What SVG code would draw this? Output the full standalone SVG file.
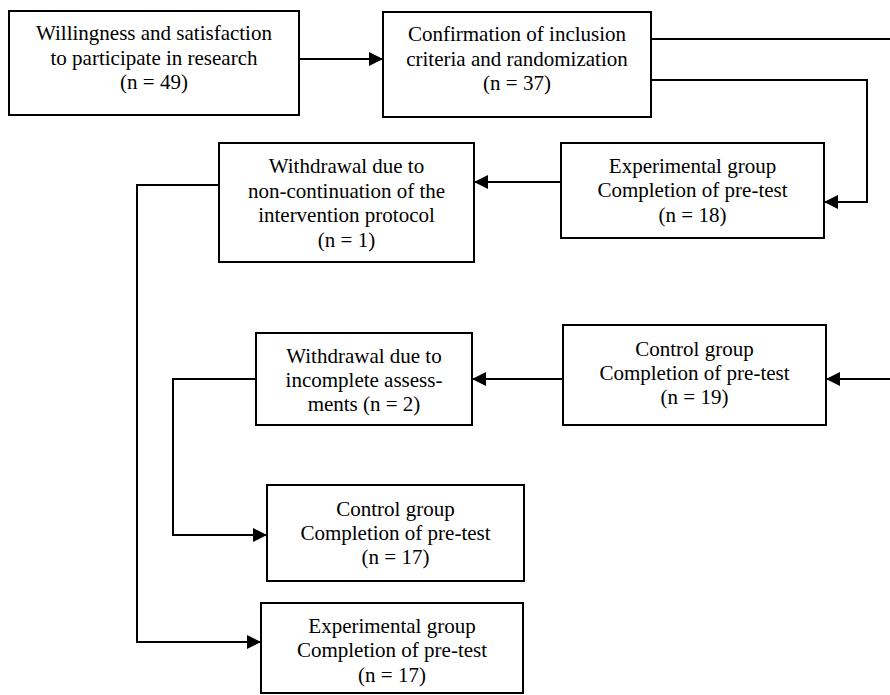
<svg xmlns="http://www.w3.org/2000/svg" width="890" height="695" viewBox="0 0 890 695">
<defs>
<marker id="ah" viewBox="0 0 14 14" refX="14" refY="7" markerWidth="14" markerHeight="14" markerUnits="userSpaceOnUse" orient="auto">
<path d="M0,0 L14,7 L0,14 z" fill="#000"/>
</marker>
<style>
.box{fill:#fff;stroke:#000;stroke-width:2}
.t{font-size:21px;fill:#000;text-anchor:middle}
.c{fill:none;stroke:#000;stroke-width:2}
.a{marker-end:url(#ah)}
</style>
</defs>
<rect width="890" height="695" fill="#fff"/>
<g id="connectors">
<path class="c a" d="M299,59 H383"/>
<path class="c" d="M651,39 H890"/>
<path class="c a" d="M651,80 H867 V202 H824"/>
<path class="c a" d="M561,182 H474"/>
<path class="c a" d="M219,185 H137 V642 H261"/>
<path class="c a" d="M890,379 H826"/>
<path class="c a" d="M563,379 H472"/>
<path class="c a" d="M256,379 H173 V535 H267"/>
</g>
<g font-family="'Liberation Serif', 'Times New Roman', Times, serif">
<g id="n1">
<rect class="box" x="9" y="11" width="290" height="104"/>
<text class="t" x="154" y="40">Willingness and satisfaction</text>
<text class="t" x="154" y="65">to participate in research</text>
<text class="t" x="154" y="89">(n = 49)</text>
</g>
<g id="n2">
<rect class="box" x="383" y="12" width="268" height="105"/>
<text class="t" x="517" y="41">Confirmation of inclusion</text>
<text class="t" x="517" y="66">criteria and randomization</text>
<text class="t" x="517" y="90">(n = 37)</text>
</g>
<g id="n3">
<rect class="box" x="561" y="143" width="263" height="95"/>
<text class="t" x="692.5" y="173">Experimental group</text>
<text class="t" x="692.5" y="197">Completion of pre-test</text>
<text class="t" x="692.5" y="222">(n = 18)</text>
</g>
<g id="n4">
<rect class="box" x="219" y="143" width="255" height="119"/>
<text class="t" x="346.5" y="173">Withdrawal due to</text>
<text class="t" x="346.5" y="198">non-continuation of the</text>
<text class="t" x="346.5" y="222">intervention protocol</text>
<text class="t" x="346.5" y="247">(n = 1)</text>
</g>
<g id="n5">
<rect class="box" x="563" y="325" width="263" height="100"/>
<text class="t" x="694.5" y="356">Control group</text>
<text class="t" x="694.5" y="380">Completion of pre-test</text>
<text class="t" x="694.5" y="404">(n = 19)</text>
</g>
<g id="n6">
<rect class="box" x="256" y="333" width="216" height="92"/>
<text class="t" x="364" y="363">Withdrawal due to</text>
<text class="t" x="364" y="387">incomplete assess-</text>
<text class="t" x="364" y="411">ments (n = 2)</text>
</g>
<g id="n7">
<rect class="box" x="267" y="485" width="257" height="96"/>
<text class="t" x="395.5" y="516">Control group</text>
<text class="t" x="395.5" y="540">Completion of pre-test</text>
<text class="t" x="395.5" y="564">(n = 17)</text>
</g>
<g id="n8">
<rect class="box" x="261" y="603" width="262" height="90"/>
<text class="t" x="392" y="633">Experimental group</text>
<text class="t" x="392" y="657">Completion of pre-test</text>
<text class="t" x="392" y="682">(n = 17)</text>
</g>
</g>
</svg>
